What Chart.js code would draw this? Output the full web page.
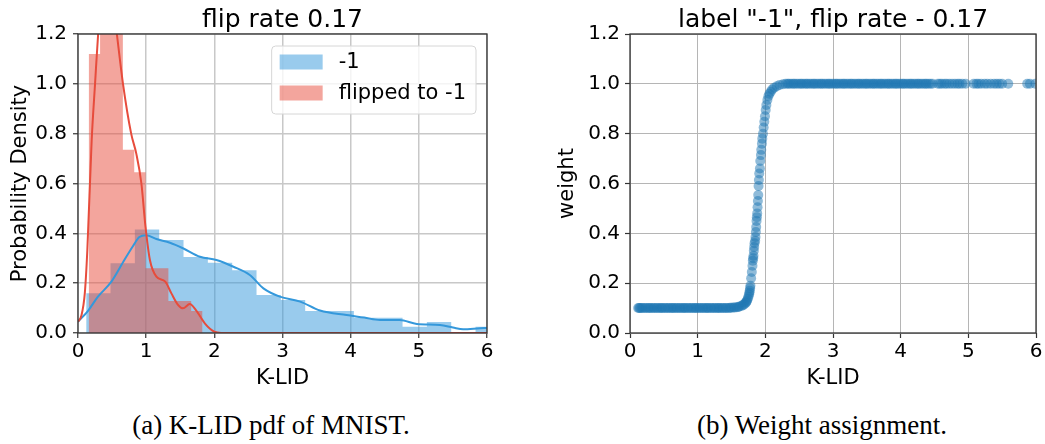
<!DOCTYPE html>
<html>
<head>
<meta charset="utf-8">
<script src="https://cdn.jsdelivr.net/npm/chart.js@4.4.0/dist/chart.umd.min.js"></script>
<style>
  body { margin: 0; background: #fff; }
  #page { position: relative; width: 1045px; height: 444px; overflow: hidden; }
  canvas { position: absolute; top: 0; }
  #graficoPdf { left: 0; }
  #graficoPeso { left: 520px; }
  .caption {
    position: absolute; top: 412px; transform: translateX(-50%);
    font-family: 'Liberation Serif', serif; font-size: 27px; line-height: 27px;
    color: #000; white-space: nowrap;
  }
</style>
</head>
<body>
<div id="page">
  <canvas id="graficoPdf" width="500" height="400"></canvas>
  <canvas id="graficoPeso" width="525" height="400"></canvas>
  <div class="caption" style="left:271px">(a) K-LID pdf of MNIST.</div>
  <div class="caption" style="left:822px">(b) Weight assignment.</div>
</div>
<script>
// axis ticks shared by both panels
const xTicks = [0, 1, 2, 3, 4, 5, 6];
const yTicks = [0, 0.2, 0.4, 0.6, 0.8, 1.0, 1.2];

// histogram of K-LID for samples labelled -1 (bin edges + density)
const blueEdges = [0.12, 0.477, 0.834, 1.191, 1.548, 1.905, 2.262, 2.619, 2.976, 3.333, 3.69, 4.047, 4.404, 4.761, 5.118, 5.475, 5.832, 6.189];
const blueDensity = [0.16, 0.28, 0.415, 0.373, 0.305, 0.282, 0.252, 0.153, 0.132, 0.088, 0.088, 0.061, 0.061, 0.025, 0.044, 0.0, 0.025];

// histogram of K-LID for samples flipped to -1
const redEdges = [0.157, 0.324, 0.491, 0.658, 0.825, 0.992, 1.159, 1.326, 1.493, 1.66, 1.827];
const redDensity = [1.12, 1.36, 1.3, 0.735, 0.645, 0.26, 0.26, 0.128, 0.128, 0.088];

// kde curves
const blueKdeX = [0, 0.15, 0.29, 0.49, 0.68, 0.81, 0.9, 1.0, 1.15, 1.35, 1.54, 1.79, 2.03, 2.28, 2.52, 2.72, 2.96, 3.26, 3.55, 3.94, 4.2, 4.43, 4.72, 4.97, 5.31, 5.5, 5.65, 5.9, 6.0];
const blueKdeY = [0.045, 0.09, 0.145, 0.206, 0.293, 0.35, 0.385, 0.392, 0.377, 0.362, 0.34, 0.306, 0.293, 0.266, 0.233, 0.179, 0.146, 0.126, 0.09, 0.072, 0.062, 0.052, 0.052, 0.036, 0.032, 0.022, 0.015, 0.019, 0.02];

const redKdeX = [0, 0.05, 0.1, 0.137, 0.2, 0.25, 0.3, 0.35, 0.43, 0.5, 0.57, 0.66, 0.78, 0.855, 0.93, 0.99, 1.055, 1.15, 1.28, 1.37, 1.47, 1.54, 1.64, 1.73, 1.86, 2.0, 2.1, 6.0];
const redKdeY = [0.045, 0.07, 0.16, 0.333, 0.77, 1.0, 1.22, 1.38, 1.45, 1.36, 1.2, 1.0, 0.8, 0.72, 0.6, 0.427, 0.293, 0.226, 0.206, 0.159, 0.112, 0.099, 0.116, 0.092, 0.039, 0.005, 0, 0];

// weight given to each sample against its K-LID
const klidLow = [0.12, 0.135, 0.15, 0.17, 0.19, 0.22, 0.24, 0.27, 0.29, 0.31,
  0.34, 0.36, 0.39, 0.41, 0.44, 0.46, 0.48, 0.51, 0.53, 0.56,
  0.58, 0.61, 0.63, 0.65, 0.68, 0.70, 0.73, 0.75, 0.78, 0.80,
  0.82, 0.85, 0.87, 0.90, 0.92, 0.95, 0.97, 0.99, 1.02, 1.04,
  1.07, 1.09, 1.12, 1.14, 1.16, 1.19, 1.21, 1.24, 1.26, 1.29,
  1.31, 1.33, 1.36, 1.38, 1.41, 1.43, 1.46, 1.48, 1.50, 1.53,
  1.55, 1.58, 1.60];
const weightLow = [0.1, 0.1, 0.1, 0.1, 0.1, 0.1, 0.1, 0.1, 0.1, 0.1,
  0.1, 0.1, 0.1, 0.1, 0.1, 0.1, 0.1, 0.1, 0.1, 0.1,
  0.1, 0.1, 0.1, 0.1, 0.1, 0.1, 0.1, 0.1, 0.1, 0.1,
  0.1, 0.1, 0.1, 0.1, 0.1, 0.1, 0.1, 0.1, 0.1, 0.1,
  0.1, 0.1, 0.1, 0.1, 0.1, 0.1, 0.1, 0.1, 0.1, 0.1,
  0.1, 0.1, 0.1, 0.1, 0.1, 0.1, 0.1, 0.101, 0.101, 0.102,
  0.102, 0.103, 0.104];

const klidRise = [1.62, 1.65, 1.67, 1.69, 1.71, 1.72, 1.73, 1.74, 1.75, 1.76,
  1.765, 1.77, 1.775, 1.78, 1.79, 1.80, 1.81, 1.815, 1.82, 1.825,
  1.83, 1.835, 1.84, 1.85, 1.855, 1.86, 1.865, 1.87, 1.875, 1.88,
  1.885, 1.89, 1.895, 1.90, 1.905, 1.91, 1.92, 1.925, 1.935, 1.94,
  1.95, 1.955, 1.965, 1.975, 1.985, 1.995, 2.005, 2.015, 2.03, 2.045,
  2.06, 2.08, 2.1, 2.13, 2.17, 2.21, 2.26];
const weightRise = [0.106, 0.109, 0.112, 0.116, 0.121, 0.125, 0.13, 0.137, 0.145, 0.155,
  0.162, 0.17, 0.18, 0.19, 0.22, 0.245, 0.27, 0.29, 0.30, 0.31,
  0.33, 0.345, 0.36, 0.37, 0.385, 0.405, 0.425, 0.45, 0.465, 0.48,
  0.505, 0.53, 0.554, 0.59, 0.614, 0.64, 0.66, 0.69, 0.714, 0.735,
  0.76, 0.78, 0.80, 0.825, 0.848, 0.87, 0.895, 0.915, 0.935, 0.95,
  0.96, 0.968, 0.977, 0.984, 0.99, 0.995, 0.998];

const klidHigh = [2.30, 2.33, 2.35, 2.38, 2.41, 2.43, 2.46, 2.49, 2.52, 2.54,
  2.57, 2.60, 2.62, 2.65, 2.68, 2.71, 2.73, 2.76, 2.79, 2.82,
  2.84, 2.87, 2.90, 2.93, 2.95, 2.98, 3.01, 3.04, 3.06, 3.09,
  3.12, 3.15, 3.17, 3.20, 3.23, 3.26, 3.28, 3.31, 3.34, 3.37,
  3.39, 3.42, 3.45, 3.48, 3.50, 3.53, 3.56, 3.59, 3.61, 3.64,
  3.67, 3.70, 3.72, 3.75, 3.78, 3.81, 3.83, 3.86, 3.89, 3.92,
  3.94, 3.97, 4.00, 4.03, 4.05, 4.08, 4.11, 4.14, 4.16, 4.19,
  4.22, 4.25, 4.27, 4.30, 4.33, 4.36, 4.38, 4.41, 4.44, 4.47,
  4.55, 4.58, 4.61, 4.65, 4.68, 4.72, 4.76, 4.80, 4.84, 4.87,
  4.91, 4.96, 5.08, 5.12, 5.15, 5.19, 5.24, 5.28, 5.33, 5.38,
  5.42, 5.46, 5.50, 5.59, 5.87, 5.91, 5.99];
const weightHigh = [1, 1, 1, 1, 1, 1, 1, 1, 1, 1,
  1, 1, 1, 1, 1, 1, 1, 1, 1, 1,
  1, 1, 1, 1, 1, 1, 1, 1, 1, 1,
  1, 1, 1, 1, 1, 1, 1, 1, 1, 1,
  1, 1, 1, 1, 1, 1, 1, 1, 1, 1,
  1, 1, 1, 1, 1, 1, 1, 1, 1, 1,
  1, 1, 1, 1, 1, 1, 1, 1, 1, 1,
  1, 1, 1, 1, 1, 1, 1, 1, 1, 1,
  1, 1, 1, 1, 1, 1, 1, 1, 1, 1,
  1, 1, 1, 1, 1, 1, 1, 1, 1, 1,
  1, 1, 1, 1, 1, 1, 1];

Chart.defaults.font.family = "'DejaVu Sans', sans-serif";
Chart.defaults.color = '#000';
Chart.defaults.animation = false;

// pair up x and y lists into point objects
function toPoints(xs, ys) {
    return xs.map((x, i) => ({ x: x, y: ys[i] }));
}

// histogram as a stepped outline: each edge holds its bin height
function histSteps(edges, heights) {
    return edges.map((x, i) => ({ x: x, y: heights[Math.min(i, heights.length - 1)] }));
}

// axes for a panel (both share the same x range)
function makeScales(cfg) {
    return {
        x: {
            type: 'linear', min: 0, max: 6,
            afterBuildTicks: s => { s.ticks = xTicks.map(v => ({ value: v })); },
            afterFit: s => { s.height = 67; },
            ticks: { font: { size: 20 }, padding: 2, maxRotation: 0, autoSkip: false, callback: v => String(v) },
            grid: { color: cfg.gridColor, lineWidth: cfg.gridWidth, tickColor: '#333', tickLength: 5, tickWidth: 1.2 },
            border: { display: false },
            title: { display: true, text: 'K-LID', font: { size: 21 }, padding: { top: 0, bottom: 9 } }
        },
        y: {
            type: 'linear', min: 0, max: 1.2,
            afterBuildTicks: s => { s.ticks = yTicks.map(v => ({ value: v })); },
            afterFit: s => { s.width = cfg.yWidth; },
            ticks: { font: { size: 20 }, padding: cfg.tickPad, callback: v => v.toFixed(1) },
            grid: { color: cfg.gridColor, lineWidth: cfg.gridWidth, tickColor: '#333', tickLength: 5, tickWidth: 1.2 },
            border: { display: false },
            title: { display: true, text: cfg.yTitle, font: { size: 21 }, padding: { top: cfg.yTitlePad, bottom: 0 } }
        }
    };
}

function makeTitle(text) {
    return {
        display: true, text: text, fullSize: false, color: '#000',
        font: { size: 25, weight: 'normal', lineHeight: 1.12 },
        padding: { top: 6, bottom: 0 }
    };
}

// box around the plotting area
const framePlugin = {
    id: 'frame',
    afterDatasetsDraw(chart) {
        const a = chart.chartArea;
        const ctx = chart.ctx;
        ctx.save();
        ctx.strokeStyle = '#333';
        ctx.lineWidth = 1.3;
        ctx.strokeRect(a.left, a.top, a.right - a.left, a.bottom - a.top);
        ctx.restore();
    }
};

// legend inside the upper right corner, listing the histogram datasets only
const histLegend = {
    id: 'histLegend',
    afterDraw(chart) {
        const ctx = chart.ctx;
        const items = chart.data.datasets.filter(d => d.legendText);
        ctx.save();
        ctx.font = "21px 'DejaVu Sans', sans-serif";
        let textW = 0;
        items.forEach(d => { textW = Math.max(textW, ctx.measureText(d.legendText).width); });
        const w = 8 + 43 + 16 + textW + 10;
        const h = 68;
        const right = chart.chartArea.right - 11;
        const top = chart.chartArea.top + 12;
        const left = right - w;

        ctx.beginPath();
        ctx.roundRect(left, top, w, h, 4);
        ctx.fillStyle = 'rgba(255,255,255,0.8)';
        ctx.fill();
        ctx.strokeStyle = '#d6d6d6';
        ctx.lineWidth = 1;
        ctx.stroke();

        items.forEach((d, i) => {
            const cy = top + 16 + i * 31;
            ctx.fillStyle = d.backgroundColor;
            ctx.fillRect(left + 8, cy - 7.5, 43, 15);
            ctx.fillStyle = '#000';
            ctx.textBaseline = 'middle';
            ctx.fillText(d.legendText, left + 67, cy + 1);
        });
        ctx.restore();
    }
};

// left panel: K-LID densities
function criarGraficoPdf() {
    const ctx = document.getElementById('graficoPdf').getContext('2d');
    new Chart(ctx, {
        type: 'line',
        data: {
            datasets: [
                {
                    legendText: '-1', data: histSteps(blueEdges, blueDensity), stepped: true, fill: 'origin',
                    backgroundColor: 'rgba(52,152,219,0.5)', borderColor: 'rgba(0,0,0,0)', borderWidth: 0,
                    pointRadius: 0, order: 4
                },
                {
                    legendText: 'flipped to -1', data: histSteps(redEdges, redDensity), stepped: true, fill: 'origin',
                    backgroundColor: 'rgba(231,76,60,0.5)', borderColor: 'rgba(0,0,0,0)', borderWidth: 0,
                    pointRadius: 0, order: 3
                },
                {
                    data: toPoints(blueKdeX, blueKdeY), borderColor: '#3498db', borderWidth: 2,
                    pointRadius: 0, fill: false, cubicInterpolationMode: 'monotone', order: 2
                },
                {
                    data: toPoints(redKdeX, redKdeY), borderColor: '#e74c3c', borderWidth: 2,
                    pointRadius: 0, fill: false, cubicInterpolationMode: 'monotone', order: 1
                }
            ]
        },
        options: {
            responsive: false, devicePixelRatio: 1, events: [],
            layout: { padding: { left: 0, right: 13, top: 0, bottom: 0 } },
            scales: makeScales({ gridColor: '#c8c8c8', gridWidth: 1.5, yWidth: 78, tickPad: 6, yTitle: 'Probability Density', yTitlePad: 8 }),
            plugins: { legend: { display: false }, tooltip: { enabled: false }, title: makeTitle('flip rate 0.17') }
        },
        plugins: [framePlugin, histLegend]
    });
}

// right panel: weight per sample
function criarGraficoPeso() {
    const ctx = document.getElementById('graficoPeso').getContext('2d');
    new Chart(ctx, {
        type: 'scatter',
        data: {
            datasets: [{
                data: toPoints(klidLow.concat(klidRise, klidHigh), weightLow.concat(weightRise, weightHigh)),
                pointRadius: 5, pointBackgroundColor: 'rgba(31,119,180,0.5)', pointBorderWidth: 0
            }]
        },
        options: {
            responsive: false, devicePixelRatio: 1, events: [],
            layout: { padding: { left: 0, right: 9, top: 0, bottom: 0 } },
            scales: makeScales({ gridColor: '#b5b5b5', gridWidth: 1, yWidth: 110, tickPad: 5, yTitle: 'weight', yTitlePad: 35 }),
            plugins: { legend: { display: false }, tooltip: { enabled: false }, title: makeTitle('label "-1", flip rate - 0.17') }
        },
        plugins: [framePlugin]
    });
}

window.onload = function() {
    criarGraficoPdf();
    criarGraficoPeso();
};
</script>
</body>
</html>
